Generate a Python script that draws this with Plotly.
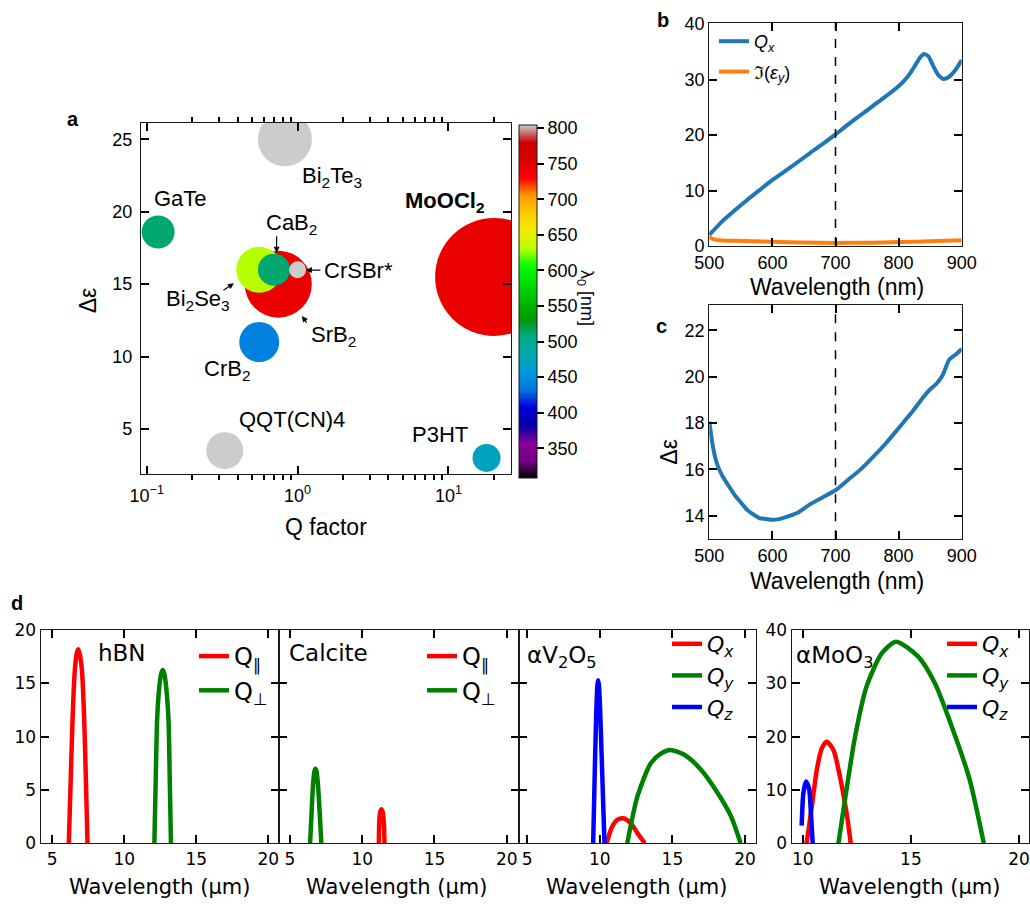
import plotly.graph_objects as go

W, H = 1030, 904
FA = "Liberation Sans, Arial, sans-serif"
FD = "DejaVu Sans, sans-serif"

# ---------------- panel a data ----------------
materials = ["SrB2", "Bi2Se3", "CaB2", "CrSBr*", "Bi2Te3", "GaTe", "MoOCl2", "CrB2", "QQT(CN)4", "P3HT"]
q_factor = [0.745, 0.557, 0.697, 1.0, 0.824, 0.119, 20.1, 0.557, 0.329, 17.9]
delta_eps = [15.0, 16.0, 16.0, 16.0, 25.0, 18.6, 15.5, 11.0, 3.5, 3.0]
lambda0 = [744, 630, 511, 810, 810, 511, 744, 439, 810, 472]
bubble_size = [67, 46, 32, 17, 54, 33, 118, 40, 37, 28]
cbar_ticks = [350, 400, 450, 500, 550, 600, 650, 700, 750, 800]
CMIN, CMAX = 308, 804

# ---------------- panel b data ----------------
wl_b = [500, 520, 540, 560, 580, 600, 620, 640, 660, 680, 700, 720, 740, 760, 780, 800,
        815, 825, 833, 840, 847, 855, 863, 871, 880, 890, 900]
qx_b = [2.0, 4.4, 6.4, 8.3, 10.1, 11.9, 13.5, 15.1, 16.8, 18.4, 20.1, 21.9, 23.6, 25.3, 27.0, 28.8,
        30.6, 32.3, 33.8, 34.6, 34.2, 32.4, 30.8, 30.1, 30.5, 31.7, 33.5]
wl_im = [500, 505, 510, 520, 540, 570, 600, 650, 700, 750, 800, 850, 900]
im_eps_y = [1.7, 1.3, 1.1, 1.0, 0.95, 0.85, 0.75, 0.62, 0.55, 0.6, 0.7, 0.85, 1.05]

# ---------------- panel c data ----------------
wl_c = [500, 505, 511, 520, 528, 540, 549, 560, 570, 580, 590, 600, 610, 620, 640, 660, 680, 700,
        720, 740, 760, 780, 800, 820, 840, 850, 860, 870, 880, 890, 900]
de_c = [18.07, 17.1, 16.34, 15.75, 15.4, 14.9, 14.6, 14.25, 14.05, 13.89, 13.86, 13.82, 13.85, 13.93,
        14.13, 14.5, 14.8, 15.1, 15.55, 16.0, 16.55, 17.13, 17.78, 18.43, 19.15, 19.46, 19.7, 20.08,
        20.73, 20.95, 21.2]

# ---------------- panel d data ----------------
hbn_par_wl = [6.15, 6.28, 6.41, 6.57, 6.70, 6.80, 6.90, 7.06, 7.22, 7.34, 7.45]
hbn_par_q = [0, 5.8, 11.6, 16.25, 17.8, 18.2, 17.8, 16.25, 11.6, 5.8, 0]
hbn_perp_wl = [12.09, 12.18, 12.28, 12.42, 12.56, 12.67, 12.78, 12.92, 13.07, 13.16, 13.24]
hbn_perp_q = [0, 5.8, 11.6, 14.5, 15.9, 16.25, 15.9, 14.5, 11.6, 5.8, 0]

cal_par_wl = [11.15, 11.18, 11.24, 11.33, 11.42, 11.5, 11.54]
cal_par_q = [0, 2.0, 2.9, 3.2, 2.9, 1.8, 0]
cal_perp_wl = [6.39, 6.5, 6.6, 6.7, 6.76, 6.83, 6.93, 7.05, 7.17]
cal_perp_q = [0, 3.0, 5.6, 6.8, 7.0, 6.8, 5.6, 3.0, 0]

v2o5_x_wl = [10.46, 10.85, 11.2, 11.62, 12.12, 12.6, 13.1]
v2o5_x_q = [0, 1.56, 2.2, 2.34, 1.9, 0.95, 0]
v2o5_y_wl = [11.89, 12.59, 13.51, 14.2, 14.85, 15.82, 16.97, 18.13, 19.05, 19.7]
v2o5_y_q = [0, 4.4, 7.5, 8.4, 8.75, 8.3, 6.9, 4.7, 2.5, 0]
v2o5_z_wl = [9.54, 9.61, 9.68, 9.76, 9.83, 9.88, 9.94, 10.02, 10.12, 10.22, 10.32]
v2o5_z_q = [0, 4.2, 8.4, 12.5, 14.8, 15.3, 14.8, 12.5, 8.4, 4.2, 0]

moo3_x_wl = [10.18, 10.42, 10.65, 10.88, 11.11, 11.42, 11.72, 12.03, 12.22]
moo3_x_q = [0, 6.9, 13.75, 17.8, 19.06, 17.5, 12.5, 5.6, 0]
moo3_y_wl = [11.65, 11.95, 12.42, 12.95, 13.65, 14.31, 15.34, 16.11, 17.03, 17.72, 18.37]
moo3_y_q = [0, 8.1, 20.0, 29.4, 35.6, 37.8, 35.0, 30.0, 20.3, 11.9, 0]
moo3_z_wl = [9.95, 10.03, 10.15, 10.29, 10.38, 10.46]
moo3_z_q = [3.3, 9.4, 11.6, 10.3, 5.6, 0]

# tick values
a_xticks = [0.1, 1, 10]
a_xtext = ["10<sup>−1</sup>", "10<sup>0</sup>", "10<sup>1</sup>"]
a_minor = [0.2, 0.3, 0.4, 0.5, 0.6, 0.7, 0.8, 0.9, 2, 3, 4, 5, 6, 7, 8, 9, 20]
a_yticks = [5, 10, 15, 20, 25]
c_yticks = [14, 16, 18, 20, 22]
d_xticks = [5, 10, 15, 20]
d4_xticks = [10, 15, 20]

# nipy_spectral colour map
nipy = [[0.0, "rgb(0,0,0)"], [0.05, "rgb(119,0,136)"], [0.10, "rgb(136,0,153)"],
        [0.15, "rgb(0,0,170)"], [0.20, "rgb(0,0,221)"], [0.25, "rgb(0,119,221)"],
        [0.30, "rgb(0,153,221)"], [0.35, "rgb(0,170,170)"], [0.40, "rgb(0,170,136)"],
        [0.45, "rgb(0,153,0)"], [0.50, "rgb(0,187,0)"], [0.55, "rgb(0,221,0)"],
        [0.60, "rgb(0,255,0)"], [0.65, "rgb(187,255,0)"], [0.70, "rgb(238,238,0)"],
        [0.75, "rgb(255,204,0)"], [0.80, "rgb(255,153,0)"], [0.85, "rgb(255,0,0)"],
        [0.90, "rgb(221,0,0)"], [0.95, "rgb(204,0,0)"], [1.0, "rgb(204,204,204)"]]


def px(x):
    return x / W


def py(y):
    return 1 - y / H


LC = "#1a1a1a"


def axstyle(family, size):
    return dict(showline=True, linecolor=LC, linewidth=1.3, mirror="allticks", ticks="inside",
                ticklen=8, tickwidth=2, tickcolor="black", showgrid=False, zeroline=False,
                automargin=False, layer="above traces",
                tickfont=dict(family=family, size=size, color="black"))


fig = go.Figure()

# colour bar geometry (pixels)
CB_X0, CB_TH, CB_TOP, CB_BOT = 519, 18, 125.2, 478.2

# panel a bubbles
fig.add_trace(go.Scatter(
    x=q_factor, y=delta_eps, mode="markers", text=materials, showlegend=False,
    xaxis="x", yaxis="y",
    marker=dict(size=bubble_size, sizemode="diameter", sizeref=1, color=lambda0,
                colorscale=nipy, cmin=CMIN, cmax=CMAX, opacity=1, line=dict(width=0),
                showscale=True,
                colorbar=dict(x=px(CB_X0), xanchor="left", xpad=0, y=py((CB_TOP + CB_BOT) / 2),
                              yanchor="middle", ypad=0, len=CB_BOT - CB_TOP, lenmode="pixels",
                              thickness=CB_TH, thicknessmode="pixels", outlinewidth=1,
                              outlinecolor=LC, ticks="outside", ticklen=7, tickcolor="black",
                              tickwidth=2, tickvals=cbar_ticks,
                              tickfont=dict(family=FA, size=18, color="black")))))

# panel b
fig.add_trace(go.Scatter(x=wl_b, y=qx_b, mode="lines", name="<i>Q<sub>x</sub></i>",
                         line=dict(color="#1f77b4", width=4, shape="spline", smoothing=0.6),
                         xaxis="x2", yaxis="y2", legend="legend", legendgroup="b1"))
fig.add_trace(go.Scatter(x=wl_im, y=im_eps_y, mode="lines", name="ℑ(<i>ε<sub>y</sub></i>)",
                         line=dict(color="#ff7f0e", width=4, shape="spline", smoothing=0.6),
                         xaxis="x2", yaxis="y2", legend="legend", legendgroup="b2"))
# panel c
fig.add_trace(go.Scatter(x=wl_c, y=de_c, mode="lines", showlegend=False,
                         line=dict(color="#1f77b4", width=4, shape="spline", smoothing=0.6),
                         xaxis="x3", yaxis="y3"))

RED, GREEN, BLUE = "#ff0000", "#008000", "#0000ff"
LW = 4.5


def dtrace(x, y, color, name, ax, leg):
    return go.Scatter(x=x, y=y, mode="lines", name=name,
                      line=dict(color=color, width=LW, shape="spline", smoothing=0.7),
                      xaxis="x" + ax, yaxis="y" + ax, legend=leg)


fig.add_trace(dtrace(hbn_par_wl, hbn_par_q, RED, "Q<sub>∥</sub>", "4", "legend2"))
fig.add_trace(dtrace(hbn_perp_wl, hbn_perp_q, GREEN, "Q<sub>⊥</sub>", "4", "legend2"))
fig.add_trace(dtrace(cal_par_wl, cal_par_q, RED, "Q<sub>∥</sub>", "5", "legend3"))
fig.add_trace(dtrace(cal_perp_wl, cal_perp_q, GREEN, "Q<sub>⊥</sub>", "5", "legend3"))
fig.add_trace(dtrace(v2o5_x_wl, v2o5_x_q, RED, "<i>Q<sub>x</sub></i>", "6", "legend4"))
fig.add_trace(dtrace(v2o5_y_wl, v2o5_y_q, GREEN, "<i>Q<sub>y</sub></i>", "6", "legend4"))
fig.add_trace(dtrace(v2o5_z_wl, v2o5_z_q, BLUE, "<i>Q<sub>z</sub></i>", "6", "legend4"))
fig.add_trace(dtrace(moo3_x_wl, moo3_x_q, RED, "<i>Q<sub>x</sub></i>", "7", "legend5"))
fig.add_trace(dtrace(moo3_y_wl, moo3_y_q, GREEN, "<i>Q<sub>y</sub></i>", "7", "legend5"))
fig.add_trace(dtrace(moo3_z_wl, moo3_z_q, BLUE, "<i>Q<sub>z</sub></i>", "7", "legend5"))

# subplot geometry in pixels: (x0, x1, y_top, y_bottom)
GEO = {
    "": (141, 511, 123, 474),
    "2": (709.3, 961.7, 23, 246),
    "3": (709.3, 961.7, 305, 539.3),
    "4": (40.7, 279.3, 630, 843.3),
    "5": (279.3, 519, 630, 843.3),
    "6": (519, 755.7, 630, 843.3),
    "7": (791.7, 1029, 630, 843.3),
}


def xdom(k):
    return [px(GEO[k][0]), px(GEO[k][1])]


def ydom(k):
    return [py(GEO[k][3]), py(GEO[k][2])]


layout = dict(
    template="none",
    width=W, height=H, margin=dict(l=0, r=0, t=0, b=0, pad=0, autoexpand=False), autosize=False,
    paper_bgcolor="white", plot_bgcolor="rgba(0,0,0,0)",
    font=dict(family=FA, color="black"),
    xaxis=dict(domain=xdom(""), type="log", range=[-1.038, 1.415], anchor="y",
               tickmode="array", tickvals=a_xticks, ticktext=a_xtext, ticklabelstandoff=5,
               minor=dict(tickmode="array", tickvals=a_minor, ticks="outside", ticklen=5,
                          tickcolor="black", tickwidth=1.5, showgrid=False),
               **axstyle(FA, 18)),
    yaxis=dict(domain=ydom(""), range=[1.89, 26.13], anchor="x", ticklabelstandoff=4,
               tickvals=a_yticks, **axstyle(FA, 18)),
    xaxis2=dict(domain=xdom("2"), range=[500, 900], anchor="y2", dtick=100, **axstyle(FA, 18)),
    yaxis2=dict(domain=ydom("2"), range=[0, 40.18], anchor="x2", dtick=10, **axstyle(FA, 18)),
    xaxis3=dict(domain=xdom("3"), range=[500, 900], anchor="y3", dtick=100, **axstyle(FA, 18)),
    yaxis3=dict(domain=ydom("3"), range=[12.98, 23.1], anchor="x3",
                tickvals=c_yticks, **axstyle(FA, 18)),
    xaxis4=dict(domain=xdom("4"), range=[4.2, 20.76], anchor="y4", tickvals=d_xticks,
                **axstyle(FD, 17)),
    yaxis4=dict(domain=ydom("4"), range=[0, 20], anchor="x4", dtick=5, **axstyle(FD, 17)),
    xaxis5=dict(domain=xdom("5"), range=[4.26, 20.85], anchor="y5", tickvals=d_xticks,
                **axstyle(FD, 17)),
    yaxis5=dict(domain=ydom("5"), range=[0, 20], anchor="x5", dtick=5, showticklabels=False,
                **axstyle(FD, 17)),
    xaxis6=dict(domain=xdom("6"), range=[4.43, 20.74], anchor="y6", tickvals=d_xticks,
                **axstyle(FD, 17)),
    yaxis6=dict(domain=ydom("6"), range=[0, 20], anchor="x6", dtick=5, showticklabels=False,
                **axstyle(FD, 17)),
    xaxis7=dict(domain=xdom("7"), range=[9.49, 20.46], anchor="y7", tickvals=d4_xticks,
                **axstyle(FD, 17)),
    yaxis7=dict(domain=ydom("7"), range=[0, 40], anchor="x7", dtick=10, **axstyle(FD, 17)),
)


def leg(x, y, size, family, gap, order):
    return dict(x=px(x), y=py(y), xanchor="left", yanchor="top", bgcolor="rgba(0,0,0,0)",
                borderwidth=0, font=dict(family=family, size=size, color="black"),
                tracegroupgap=gap, traceorder=order, itemwidth=30)


layout["legend"] = leg(714, 23, 18, FA, 4, "grouped")
layout["legend2"] = leg(194, 634, 24, FD, 0, "normal")
layout["legend3"] = leg(422, 634, 24, FD, 0, "normal")
layout["legend4"] = leg(667, 623, 22, FD, 0, "normal")
layout["legend5"] = leg(942, 623, 22, FD, 0, "normal")

fig.update_layout(**layout)

# dashed markers at 700 nm
for k in ["2", "3"]:
    fig.add_shape(type="line", x0=700, x1=700, y0=0, y1=1, xref="x" + k,
                  yref="y" + k + " domain", line=dict(color="black", width=1.5, dash="dash"))

ann = []


def note(text, x, y, size=22, family=FA, angle=0, xanchor="center", bold=False):
    if bold:
        text = "<b>" + text + "</b>"
    ann.append(dict(text=text, x=px(x), y=py(y), xref="paper", yref="paper", showarrow=False,
                    xanchor=xanchor, yanchor="middle", textangle=angle,
                    font=dict(family=family, size=size, color="black")))


# panel letters
note("a", 72.7, 119.3, 20, bold=True)
note("b", 663.3, 20, 20, bold=True)
note("c", 661.7, 326, 20, bold=True)
note("d", 16.7, 603.3, 20, bold=True)
# axis titles
note("Q factor", 326, 526.7, 23)
note("Δε", 88.3, 300, 23, angle=-90)
note("Wavelength (nm)", 837.3, 286.7, 23)
note("Wavelength (nm)", 837.3, 581, 23)
note("Δε", 669, 451.7, 23, angle=-90)
note("λ<sub>0</sub> [nm]", 586, 298, 18, angle=90)
for xc in [159.3, 396.7, 636, 909.3]:
    note("Wavelength (µm)", xc, 886.7, 21, FD)
# panel d titles
note("hBN", 121.7, 653.3, 23, FD)
note("Calcite", 286.7, 653, 23, FD, xanchor="left")
note("αV<sub>2</sub>O<sub>5</sub>", 525, 656.7, 23, FD, xanchor="left")
note("αMoO<sub>3</sub>", 794, 656.7, 23, FD, xanchor="left")

# panel a labels (data coordinates, log10 for x)
labels_a = [
    ("Bi<sub>2</sub>Te<sub>3</sub>", 0.225, 22.4, "center"),
    ("GaTe", -0.775, 20.9, "center"),
    ("<b>MoOCl<sub>2</sub></b>", 0.976, 20.7, "center"),
    ("CaB<sub>2</sub>", -0.040, 19.15, "center"),
    ("CrSBr*", 0.159, 15.97, "left"),
    ("Bi<sub>2</sub>Se<sub>3</sub>", -0.658, 13.9, "center"),
    ("SrB<sub>2</sub>", 0.236, 11.44, "center"),
    ("CrB<sub>2</sub>", -0.470, 9.07, "center"),
    ("QQT(CN)4", -0.040, 5.66, "center"),
    ("P3HT", 0.947, 4.63, "center"),
]
for t, x, y, xa in labels_a:
    ann.append(dict(text=t, x=x, y=y, xref="x", yref="y", showarrow=False, xanchor=xa,
                    yanchor="middle", font=dict(family=FA, size=22, color="black")))
arrows_a = [(-0.139, 17.17, 0, -18), (0.055, 15.97, 16, 0), (-0.422, 15.06, -12, 8),
            (0.0285, 12.8, 6, 8)]
for x, y, axp, ayp in arrows_a:
    ann.append(dict(text="", x=x, y=y, xref="x", yref="y", showarrow=True, ax=axp, ay=ayp,
                    arrowhead=2, arrowsize=1, arrowwidth=1.2, arrowcolor="black", standoff=0))

fig.update_layout(annotations=ann)

fig.write_html("out.html")
